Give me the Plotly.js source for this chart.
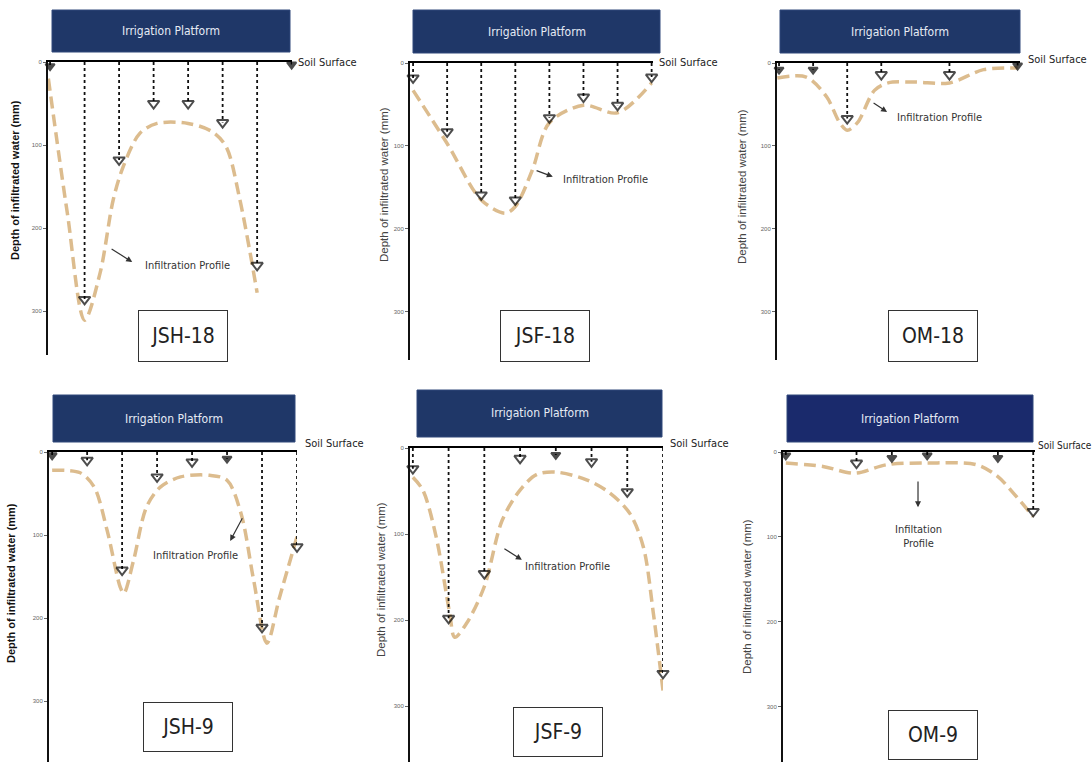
<!DOCTYPE html>
<html>
<head>
<meta charset="utf-8">
<script src="https://cdn.plot.ly/plotly-3.0.1.min.js"></script>
<style>html,body{margin:0;padding:0;background:#fff;}#chart{width:1092px;height:762px;}</style>
</head>
<body>
<div id="chart"></div>
<script>
// ---------------- DATA ----------------
const panelNames = ['JSH-18', 'JSF-18', 'OM-18', 'JSH-9', 'JSF-9', 'OM-9'];
const depthTicks = [0, 100, 200, 300];
const platformLabel = 'Irrigation Platform';
const surfaceLabel = 'Soil Surface';
const yTitle = 'Depth of infiltrated water (mm)';
const profileLabels = ['Infiltration Profile', 'Infiltration Profile', 'Infiltration Profile',
                       'Infiltration Profile', 'Infiltration Profile', 'Infiltation<br>Profile'];

// JSH-18
const jsh18ProfileX = [-0.05, 0.5, 1.0, 1.45, 1.83, 2.12, 2.6, 3.1, 4.0, 4.7, 5.1, 5.5, 6.0];
const jsh18ProfileDepth = [20, 182, 311, 254, 166, 126, 86, 74, 74, 84, 102, 166, 278];
const jsh18ArrowX = [0, 1, 2, 3, 4, 5, 6, 7];
const jsh18ArrowDepth = [5, 286, 118, 50, 50, 73, 245, 3];

// JSF-18
const jsf18ProfileX = [0, 1, 2, 2.7, 3, 3.5, 4, 5, 6, 7];
const jsf18ProfileDepth = [33, 97, 165, 181, 173, 129, 72, 51, 60, 24];
const jsf18ArrowX = [0, 1, 2, 3, 4, 5, 6, 7];
const jsf18ArrowDepth = [18, 83, 159, 165, 66, 41, 51, 17];

// OM-18
const om18ProfileX = [-0.05, 0.8, 1.4, 1.78, 2.0, 2.3, 2.8, 3.2, 4, 5, 6, 7];
const om18ProfileDepth = [18, 17, 41, 72, 81, 72, 33, 24, 23, 24, 8, 6];
const om18ArrowX = [0, 1, 2, 3, 5, 7];
const om18ArrowDepth = [8, 8, 67, 14, 14, 3];

// JSH-9
const jsh9ProfileX = [0, 0.8, 1.2, 1.57, 1.95, 2.05, 2.33, 2.7, 3.1, 3.67, 4.5, 5, 5.4, 5.76, 6.14, 6.5, 7];
const jsh9ProfileDepth = [22, 25, 42, 94, 163, 170, 130, 66, 42, 30, 28, 34, 74, 154, 230, 175, 102];
const jsh9ArrowX = [0, 1, 2, 3, 4, 5, 6, 7];
const jsh9ArrowDepth = [4, 10, 142, 30, 12, 8, 211, 114];

// JSF-9
const jsf9ProfileX = [0, 0.28, 0.65, 1.03, 1.17, 1.5, 2.0, 2.5, 3.0, 3.46, 4.0, 4.86, 5.5, 6.07, 6.45, 6.73, 7.0];
const jsf9ProfileDepth = [34, 49, 103, 192, 220, 204, 161, 84, 49, 31, 28, 37, 52, 76, 115, 192, 282];
const jsf9ArrowX = [0, 1, 2, 3, 4, 5, 6, 7];
const jsf9ArrowDepth = [24, 198, 146, 12, 8, 16, 51, 262];

// OM-9
const om9ProfileX = [0, 1.05, 1.95, 2.85, 4, 5.4, 6, 6.45, 7];
const om9ProfileDepth = [13, 17, 25, 15, 13, 15, 29, 49, 76];
const om9ArrowX = [0, 2, 3, 4, 6, 7];
const om9ArrowDepth = [4, 13, 7, 4, 7, 70];

const profilesX = [jsh18ProfileX, jsf18ProfileX, om18ProfileX, jsh9ProfileX, jsf9ProfileX, om9ProfileX];
const profilesDepth = [jsh18ProfileDepth, jsf18ProfileDepth, om18ProfileDepth, jsh9ProfileDepth, jsf9ProfileDepth, om9ProfileDepth];
const arrowsX = [jsh18ArrowX, jsf18ArrowX, om18ArrowX, jsh9ArrowX, jsf9ArrowX, om9ArrowX];
const arrowsDepth = [jsh18ArrowDepth, jsf18ArrowDepth, om18ArrowDepth, jsh9ArrowDepth, jsf9ArrowDepth, om9ArrowDepth];

// ---------------- LAYOUT GEOMETRY (pixels) ----------------
const W = 1092, H = 762;
const geom = [
  {px: [48, 292],  py: [62, 355],  xr: [-0.06, 7.01], yb: 353, box: [52, 10, 290, 52],   soil: [296, 62],  lab: [138, 310, 228, 362], yt: [15, 180],  bold: true,
   txt: [3.97, 245], arr: [2.38, 241, 1.74, 224]},
  {px: [410, 653], py: [63, 360],  xr: [-0.09, 7.04], yb: 358, box: [413, 10, 660, 53],  soil: [657, 62],  lab: [500, 310, 590, 362], yt: [384, 185], bold: false,
   txt: [5.66, 141], arr: [4.1, 137, 3.58, 129]},
  {px: [777, 1020], py: [63, 360], xr: [-0.06, 7.07], yb: 358, box: [780, 10, 1020, 53], soil: [1026, 60], lab: [888, 310, 978, 362], yt: [742, 187], bold: false,
   txt: [4.72, 66], arr: [3.17, 59, 2.73, 47]},
  {px: [49, 297],  py: [452, 762], xr: [-0.09, 7.0],  yb: 373, box: [53, 395, 295, 442], soil: [303, 443], lab: [143, 702, 233, 752], yt: [11, 583],  bold: true,
   txt: [4.11, 124], arr: [5.09, 107, 5.46, 78]},
  {px: [410, 663], py: [448, 762], xr: [-0.08, 7.0],  yb: 365, box: [417, 390, 662, 437], soil: [668, 443], lab: [513, 707, 603, 757], yt: [381, 580], bold: false,
   txt: [4.34, 138], arr: [3.05, 130, 2.52, 116]},
  {px: [783, 1035], py: [452, 762], xr: [-0.08, 7.05], yb: 365, box: [787, 395, 1033, 442], soil: [1036, 445], lab: [888, 710, 978, 760], yt: [747, 597], bold: false,
   txt: [3.74, 100], arr: [3.74, 65, 3.74, 33]}
];

const narrow = 'Liberation Sans Narrow, DejaVu Sans Condensed, Arial Narrow, sans-serif';
const fx = p => p / W;
const fy = p => 1 - p / H;

const traces = [];
const layout = {
  width: W, height: H,
  margin: {l: 0, r: 0, t: 0, b: 0},
  paper_bgcolor: '#ffffff', plot_bgcolor: 'rgba(0,0,0,0)',
  showlegend: false,
  shapes: [], annotations: []
};

geom.forEach((g, i) => {
  const n = i + 1;
  const xa = n === 1 ? 'x' : 'x' + n;
  const ya = n === 1 ? 'y' : 'y' + n;
  const xKey = n === 1 ? 'xaxis' : 'xaxis' + n;
  const yKey = n === 1 ? 'yaxis' : 'yaxis' + n;

  layout[xKey] = {
    domain: [fx(g.px[0]), fx(g.px[1])], range: g.xr, anchor: ya, side: 'top',
    showline: true, linecolor: '#000', linewidth: 2.5, showticklabels: false, ticks: '',
    showgrid: false, zeroline: false, fixedrange: true
  };
  layout[yKey] = {
    domain: [fy(g.py[1]), fy(g.py[0])], range: [g.yb, 0], anchor: xa,
    showline: true, linecolor: '#111', linewidth: 2, ticks: 'outside', ticklen: 3, tickwidth: 1,
    tickcolor: '#666', tickvals: depthTicks, ticktext: depthTicks.map(String),
    tickfont: {size: 6, color: '#666', family: 'Arial, Liberation Sans, sans-serif'},
    showgrid: false, zeroline: false, fixedrange: true
  };

  // infiltration profile (dashed tan curve)
  traces.push({
    type: 'scatter', mode: 'lines', xaxis: xa, yaxis: ya,
    x: profilesX[i], y: profilesDepth[i],
    line: {color: '#dcbc8e', width: 3.5, dash: '12px,6px', shape: 'spline', smoothing: 0.9},
    hoverinfo: 'skip'
  });

  // dotted irrigation arrows
  const lx = [], ly = [];
  arrowsX[i].forEach((v, k) => { lx.push(v, v, null); ly.push(0, arrowsDepth[i][k], null); });
  traces.push({
    type: 'scatter', mode: 'lines', xaxis: xa, yaxis: ya, x: lx, y: ly,
    line: {color: '#111', width: 1.8, dash: 'dot'}, hoverinfo: 'skip', cliponaxis: false
  });
  traces.push({
    type: 'scatter', mode: 'markers', xaxis: xa, yaxis: ya,
    x: arrowsX[i], y: arrowsDepth[i], cliponaxis: false,
    marker: {
      symbol: arrowsDepth[i].map(d => d < 10 ? 'triangle-down' : 'triangle-down-open'),
      size: arrowsDepth[i].map(d => d < 10 ? 8 : 10),
      color: '#000', line: {color: '#000', width: 2}
    },
    hoverinfo: 'skip'
  });

  // irrigation platform box
  layout.shapes.push({
    type: 'rect', xref: 'paper', yref: 'paper',
    x0: fx(g.box[0]), x1: fx(g.box[2]), y0: fy(g.box[3]), y1: fy(g.box[1]),
    fillcolor: i === 5 ? '#1a2a6c' : '#1f3768', line: {color: '#31497a', width: 1}, layer: 'above'
  });
  layout.annotations.push({
    xref: 'paper', yref: 'paper', x: fx((g.box[0] + g.box[2]) / 2), y: fy((g.box[1] + g.box[3]) / 2),
    text: platformLabel, showarrow: false, xanchor: 'center', yanchor: 'middle',
    font: {family: narrow, size: 12, color: '#e6ebf5'}
  });

  // soil surface label
  layout.annotations.push({
    xref: 'paper', yref: 'paper', x: fx(g.soil[0]), y: fy(g.soil[1]),
    text: surfaceLabel, showarrow: false, xanchor: 'left', yanchor: 'middle',
    font: {family: narrow, size: i === 5 ? 10 : 11, color: '#222'}
  });

  // panel label box
  layout.annotations.push({
    xref: 'paper', yref: 'paper', x: fx((g.lab[0] + g.lab[2]) / 2), y: fy((g.lab[1] + g.lab[3]) / 2),
    text: panelNames[i], showarrow: false, xanchor: 'center', yanchor: 'middle',
    width: g.lab[2] - g.lab[0] - 4, height: g.lab[3] - g.lab[1] - 4, borderpad: 1,
    bordercolor: '#333', borderwidth: 1, bgcolor: '#ffffff',
    font: {family: narrow, size: 21, color: '#222'}
  });

  // y-axis title
  layout.annotations.push({
    xref: 'paper', yref: 'paper', x: fx(g.yt[0]), y: fy(g.yt[1]),
    text: g.bold ? '<b>' + yTitle + '</b>' : yTitle, textangle: -90, showarrow: false,
    xanchor: 'center', yanchor: 'middle',
    font: {family: 'Arial, Liberation Sans, sans-serif', size: g.bold ? 11 : 11.5, color: g.bold ? '#111' : '#444'}
  });

  // infiltration profile label + arrow
  layout.annotations.push({
    xref: xa, yref: ya, x: g.txt[0], y: g.txt[1], text: profileLabels[i], showarrow: false,
    xanchor: 'center', yanchor: 'middle',
    font: {family: narrow, size: 11, color: '#333'}
  });
  layout.annotations.push({
    xref: xa, yref: ya, x: g.arr[0], y: g.arr[1], axref: xa, ayref: ya, ax: g.arr[2], ay: g.arr[3],
    text: '', showarrow: true, arrowhead: 2, arrowsize: 1, arrowwidth: 1.2, arrowcolor: '#333'
  });
});

Plotly.newPlot('chart', traces, layout, {staticPlot: true, displayModeBar: false});
</script>
</body>
</html>
